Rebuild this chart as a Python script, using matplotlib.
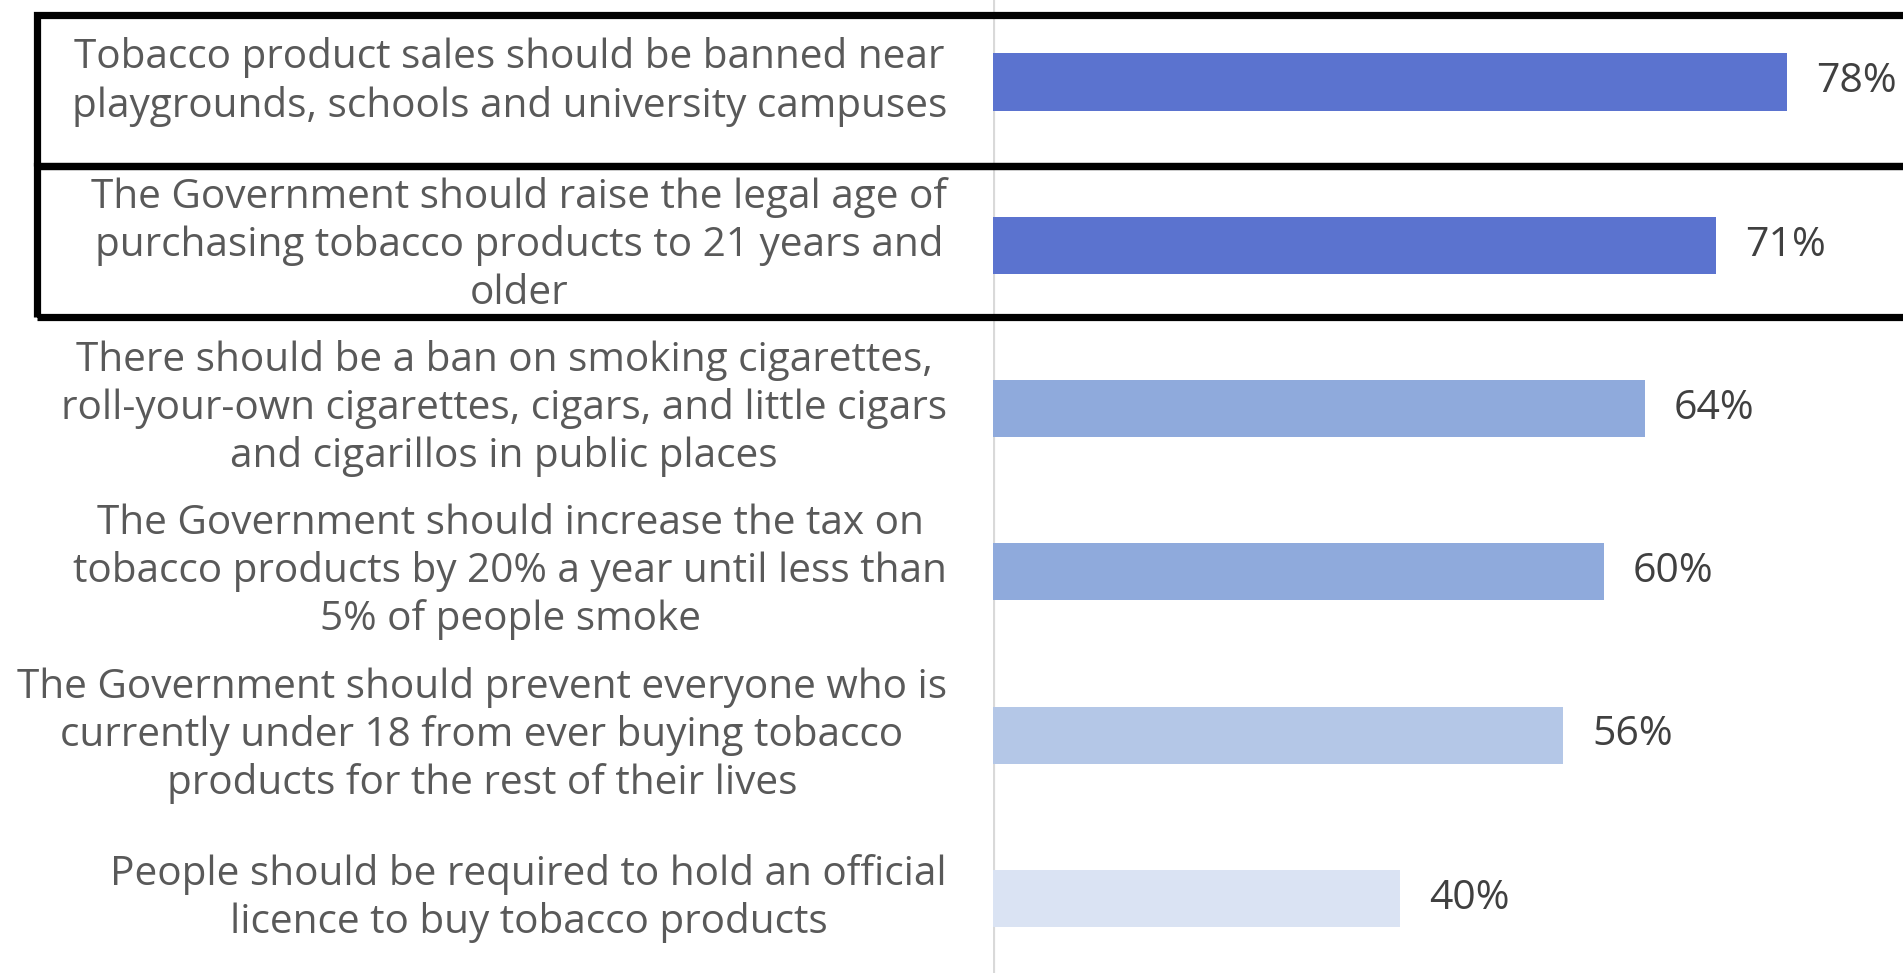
import matplotlib
matplotlib.use("Agg")
import matplotlib.pyplot as plt
from matplotlib.patches import Rectangle

plt.rcParams['font.family'] = ['Open Sans', 'DejaVu Sans']

statements = [
    "Tobacco product sales should be banned near\nplaygrounds, schools and university campuses",
    "The Government should raise the legal age of\npurchasing tobacco products to 21 years and\nolder",
    "There should be a ban on smoking cigarettes,\nroll-your-own cigarettes, cigars, and little cigars\nand cigarillos in public places",
    "The Government should increase the tax on\ntobacco products by 20% a year until less than\n5% of people smoke",
    "The Government should prevent everyone who is\ncurrently under 18 from ever buying tobacco\nproducts for the rest of their lives",
    "People should be required to hold an official\nlicence to buy tobacco products",
]
support_pct = [78, 71, 64, 60, 56, 40]
bar_colors = ["#5B73CF", "#5B73CF", "#8FAADC", "#8FAADC", "#B4C7E7", "#DAE3F3"]
highlighted = [0, 1]

W, H = 1903, 973
fig = plt.figure(figsize=(W / 100, H / 100), dpi=100)

ax_left = 993
ax = fig.add_axes([ax_left / W, 0, 1 - ax_left / W, 1])
ys = list(range(len(statements)))
ax.barh(ys, support_pct, height=0.35, color=bar_colors, zorder=2)

px_per_cat = 163.3
y_top = -82 / px_per_cat
ax.set_ylim(y_top + H / px_per_cat, y_top)
ax.set_xlim(0, (W - ax_left) / 10.18)

for s in ax.spines.values():
    s.set_visible(False)
ax.set_xticks([])
ax.set_yticks([])
ax.axvline(0, color="#D9D9D9", lw=3.0, zorder=1)

for y, v in zip(ys, support_pct):
    ax.annotate(f"{v}%", (v, y), xytext=(29, 0), textcoords="offset pixels",
                ha="left", va="center", fontsize=29.5, color="#404040")

for y, txt in zip(ys, statements):
    ax.annotate(txt, (0, y), xytext=(-46, 0), textcoords="offset pixels",
                ha="right", va="center", multialignment="center",
                fontsize=29.2, color="#595959", linespacing=1.23,
                annotation_clip=False)

# frames around the highlighted statements
frame_edges = [15.5, 166, 316.5]
for i in highlighted:
    top, bottom = frame_edges[i], frame_edges[i + 1]
    fig.patches.append(Rectangle((37 / W, 1 - bottom / H), 1.05 - 37 / W, (bottom - top) / H,
                                 transform=fig.transFigure, fill=False,
                                 edgecolor="black", lw=5.2, zorder=5))

fig.savefig("out.png", dpi=100, facecolor="white")
